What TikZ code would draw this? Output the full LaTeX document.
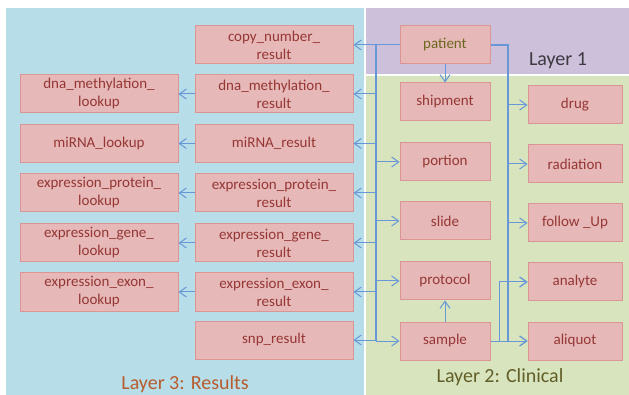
\documentclass[tikz,border=0pt]{standalone}
\usepackage{fontspec}
\setmainfont{Carlito}
\usetikzlibrary{arrows.meta}
\definecolor{resbg}{HTML}{B7DDE8}
\definecolor{onebg}{HTML}{CCC0DA}
\definecolor{clinbg}{HTML}{D7E4BD}
\definecolor{tblfill}{HTML}{E6B8B7}
\definecolor{tbldraw}{HTML}{D99694}
\definecolor{tbltext}{HTML}{953735}
\definecolor{linkcol}{HTML}{6797D6}
\tikzstyle{tbl}=[rectangle,draw=tbldraw,fill=tblfill,line width=1pt,text=tbltext,align=center,minimum height=38pt,inner sep=0pt,font=\fontsize{15}{18}\selectfont]
\tikzstyle{clin}=[tbl,minimum width=90pt]
\tikzstyle{side}=[tbl,minimum width=94pt]
\tikzstyle{res}=[tbl,minimum width=158pt]
\tikzstyle{wire}=[draw=linkcol,line width=1pt]
\tikzstyle{bus}=[draw=linkcol,line width=2pt]
\tikzstyle{layer}=[font=\fontsize{20}{24}\selectfont]

\begin{document}
\begin{tikzpicture}[x=1pt,y=-1pt,>={Straight Barb[length=7pt,width=10pt]}]
          \useasboundingbox (0, 0) rectangle (629, 395);
          \fill[resbg] (6, 8) rectangle (364, 395);
          \fill[onebg] (366, 8) rectangle (629, 74);
          \fill[clinbg] (366, 76) rectangle (629, 395);

          \node[layer,text=onebg!30!black] at (558, 61) (l1) {Layer 1};
          \node[layer,text=olive!60!black] at (500, 377) (l2) {Layer 2: Clinical};
          \node[layer,text=brown!80!red!90!black] at (185, 384) (l3) {Layer 3: Results};

          \node[clin,text=olive!70!black] at (445, 45) (patient) {patient};
          \node[clin] at (445, 102) (shipment) {shipment};
          \node[clin] at (445, 162) (portion) {portion};
          \node[clin] at (445, 221) (slide) {slide};
          \node[clin] at (445, 281) (protocol) {protocol};
          \node[clin] at (445, 341) (sample) {sample};

          \node[side] at (575, 105) (drug) {drug};
          \node[side] at (575, 164) (radiation) {radiation};
          \node[side] at (575, 223) (follow) {follow \_Up};
          \node[side] at (575, 282) (analyte) {analyte};
          \node[side] at (575, 341) (aliquot) {aliquot};

          \node[res] at (274, 45) (copy) {copy\_number\_\\result};
          \node[res] at (274, 94) (dnares) {dna\_methylation\_\\result};
          \node[res] at (274, 143.5) (mirres) {miRNA\_result};
          \node[res] at (274, 193) (protres) {expression\_protein\_\\result};
          \node[res] at (274, 243) (generes) {expression\_gene\_\\result};
          \node[res] at (274, 292) (exonres) {expression\_exon\_\\result};
          \node[res] at (274, 340) (snp) {snp\_result};

          \node[res] at (99, 94) (dnalook) {dna\_methylation\_\\lookup};
          \node[res] at (99, 143.5) (mirlook) {miRNA\_lookup};
          \node[res] at (99, 193) (protlook) {expression\_protein\_\\lookup};
          \node[res] at (99, 243) (genelook) {expression\_gene\_\\lookup};
          \node[res] at (99, 292) (exonlook) {expression\_exon\_\\lookup};

          \coordinate (lb) at (376, 0);
          \coordinate (rb) at (508, 0);

          % left bus
          \draw[bus] (patient.west -| lb) -- (sample.west -| lb);
          \draw[wire,->] (patient.west) -- (copy.east);
          \draw[wire,->] (dnares.east -| lb) -- (dnares.east);
          \draw[wire,->] (mirres.east -| lb) -- (mirres.east);
          \draw[wire,->] (protres.east -| lb) -- (protres.east);
          \draw[wire,->] (generes.east -| lb) -- (generes.east);
          \draw[wire,->] (exonres.east -| lb) -- (exonres.east);
          \draw[wire,->] (snp.east -| lb) -- (snp.east);
          \draw[wire,->] (portion.west -| lb) -- (portion.west);
          \draw[wire,->] (slide.west -| lb) -- (slide.west);
          \draw[wire,->] (protocol.west -| lb) -- (protocol.west);
          \draw[wire,->] (sample.west -| lb) -- (sample.west);

          % right bus
          \draw[bus] (patient.east) -- (patient.east -| rb) -- (aliquot.west -| rb);
          \draw[wire,->] (drug.west -| rb) -- (drug.west);
          \draw[wire,->] (radiation.west -| rb) -- (radiation.west);
          \draw[wire,->] (follow.west -| rb) -- (follow.west);
          \draw[wire,->] (analyte.west -| rb) -- (analyte.west);
          \draw[wire,->] (aliquot.west -| rb) -- (aliquot.west);

          \draw[wire,->] (patient) edge (shipment);
          \draw[wire,->] (sample) edge (protocol);
          \draw[wire,->] (sample.east) -- ++(9, 0) |- (analyte.west);
          \draw[wire,->] (sample.east) -- (aliquot.west);

          \draw[wire,->] (dnares) edge (dnalook);
          \draw[wire,->] (mirres) edge (mirlook);
          \draw[wire,->] (protres) edge (protlook);
          \draw[wire,->] (generes) edge (genelook);
          \draw[wire,->] (exonres) edge (exonlook);
        \end{tikzpicture}
\end{document}
